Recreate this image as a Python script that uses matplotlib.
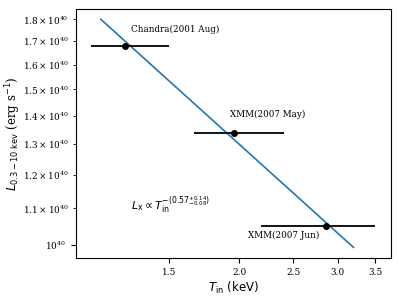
import matplotlib
matplotlib.use('Agg')
from matplotlib import pyplot as plt
from matplotlib.ticker import NullLocator, FixedLocator, FixedFormatter

plt.rcParams['font.family'] = 'DejaVu Serif'
plt.rcParams['mathtext.fontset'] = 'dejavusans'

# observations: inner disk temperature (keV) and 0.3-10 keV luminosity (erg/s)
labels = ['Chandra(2001 Aug)', 'XMM(2007 May)', 'XMM(2007 Jun)']
t_in = [1.25, 1.96, 2.86]
t_lo = [1.09, 1.66, 2.19]
t_hi = [1.50, 2.41, 3.50]
lum = [1.68e40, 1.34e40, 1.05e40]

# power-law fit end points
fit_t = [1.133, 3.20]
fit_l = [1.80e40, 0.994e40]

x_ticks = [1.5, 2.0, 2.5, 3.0, 3.5]
x_ticklabels = ['1.5', '2.0', '2.5', '3.0', '3.5']

fig = plt.figure(figsize=(3.99, 2.99), dpi=100)
ax = fig.add_axes([76 / 399, 1 - 258.3 / 299, (390.7 - 76) / 399, (258.3 - 9) / 299])

xerr = [[t - lo for t, lo in zip(t_in, t_lo)], [hi - t for t, hi in zip(t_in, t_hi)]]
ax.errorbar(t_in, lum, xerr=xerr, fmt='o', color='black', ms=4, lw=1.3, zorder=3)
ax.plot(fit_t, fit_l, color='#1f77b4', lw=1.2, zorder=2)

ax.set_xscale('log')
ax.set_yscale('log')
ax.set_xlim(1.023, 3.73)
ax.set_ylim(0.966e40, 1.849e40)

ax.xaxis.set_major_locator(FixedLocator(x_ticks))
ax.xaxis.set_major_formatter(FixedFormatter(x_ticklabels))
ax.xaxis.set_minor_locator(NullLocator())
ax.tick_params(which='both', labelsize=6.4)

# text positions in pixels from the top-left corner
offsets = [(131, 29.7), (230, 114), (248, 235.7)]
for lab, (px, py) in zip(labels, offsets):
    ax.annotate(lab, xy=(px / 399, 1 - py / 299), xycoords='figure fraction',
                fontsize=6.3, va='center', ha='left')

ax.annotate(r'$L_{\rm x} \propto T_{\rm in}^{-(0.57^{+0.14}_{-0.08})}$',
            xy=(131 / 399, 1 - 205 / 299), xycoords='figure fraction',
            fontsize=8, va='center', ha='left')

ax.set_xlabel(r'$T_{\rm in}\ (\rm keV)$', fontsize=8.5, labelpad=2)
ax.set_ylabel(r'$L_{0.3-10\ \rm kev}$ (erg s$^{-1}$)', fontsize=8.5)
ax.yaxis.set_label_coords((23 - 76) / 314.7, 0.5)

fig.savefig('out.png', dpi=100)
